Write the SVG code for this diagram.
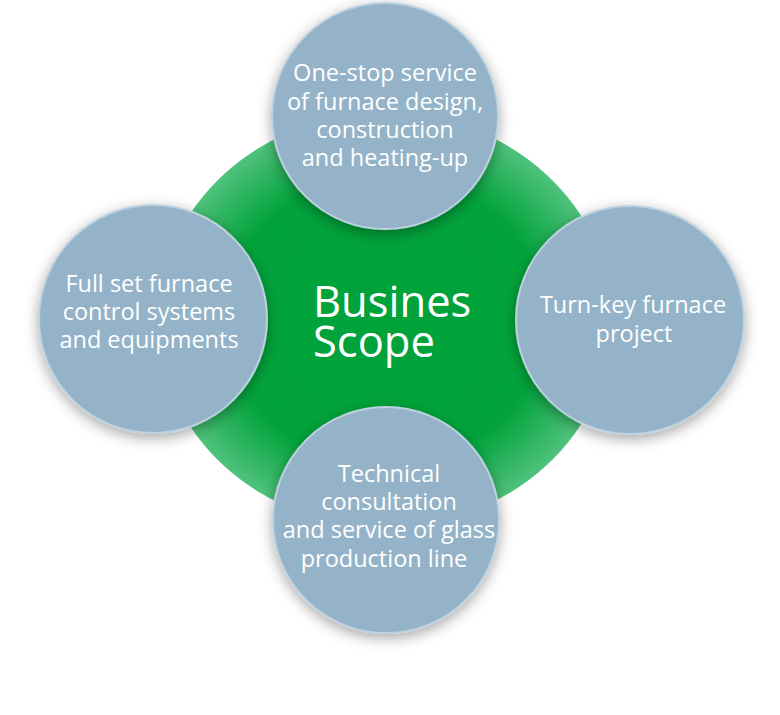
<svg xmlns="http://www.w3.org/2000/svg" width="780" height="715" viewBox="0 0 780 715">
  <defs>
    <radialGradient id="greenGrad" cx="0.5" cy="0.5" r="0.5">
      <stop offset="0" stop-color="#00a23a"/>
      <stop offset="0.70" stop-color="#02a33c"/>
      <stop offset="0.87" stop-color="#2db460"/>
      <stop offset="1" stop-color="#50c27c"/>
    </radialGradient>
    <filter id="shadow" x="-20%" y="-20%" width="140%" height="140%">
      <feDropShadow dx="0" dy="4" stdDeviation="7" flood-color="#000000" flood-opacity="0.35"/>
    </filter>
  </defs>
  <style>
    .bubble { fill: #94b3c8; stroke: #bed1df; stroke-width: 2; }
    .label { font-family: "Open Sans", "Noto Sans", sans-serif; font-size: 23.5px; fill: #ffffff; text-anchor: middle; }
    .title { font-family: "Open Sans", "Noto Sans", sans-serif; font-size: 43.5px; fill: #ffffff; }
  </style>
  <rect width="780" height="715" fill="#ffffff"/>

  <g id="center">
    <ellipse cx="385" cy="320" rx="227" ry="207" fill="url(#greenGrad)"/>
    <text class="title"><tspan x="313" y="317">Busines</tspan><tspan x="313" y="357">Scope</tspan></text>
  </g>

  <g id="connectors"></g>

  <g id="node-top">
    <circle class="bubble" cx="385" cy="116" r="113" filter="url(#shadow)"/>
    <text class="label"><tspan x="385" y="81">One-stop service</tspan><tspan x="385" y="110">of furnace design,</tspan><tspan x="385" y="138">construction</tspan><tspan x="385" y="166">and heating-up</tspan></text>
  </g>

  <g id="node-left">
    <circle class="bubble" cx="153" cy="319" r="114" filter="url(#shadow)"/>
    <text class="label"><tspan x="149" y="292">Full set furnace</tspan><tspan x="149" y="320">control systems</tspan><tspan x="149" y="348">and equipments</tspan></text>
  </g>

  <g id="node-right">
    <circle class="bubble" cx="630" cy="320" r="114" filter="url(#shadow)"/>
    <text class="label"><tspan x="633" y="313">Turn-key furnace</tspan><tspan x="634" y="342">project</tspan></text>
  </g>

  <g id="node-bottom">
    <circle class="bubble" cx="386" cy="520" r="113" filter="url(#shadow)"/>
    <text class="label"><tspan x="389" y="482">Technical</tspan><tspan x="389" y="510">consultation</tspan><tspan x="389" y="538">and service of glass</tspan><tspan x="384" y="567">production line</tspan></text>
  </g>
</svg>
